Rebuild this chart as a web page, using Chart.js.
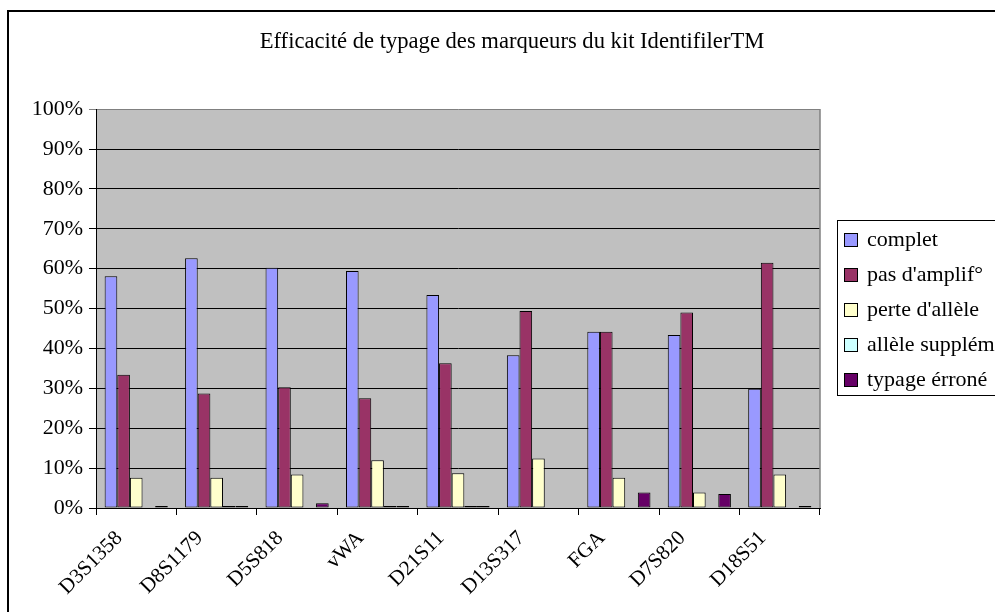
<!DOCTYPE html>
<html>
<head>
<meta charset="utf-8">
<script src="https://cdn.jsdelivr.net/npm/chart.js@4"></script>
<style>
  html, body { margin: 0; padding: 0; background: #ffffff; }
  #wrap { width: 995px; height: 612px; position: relative; }
  canvas { display: block; }
</style>
</head>
<body>
<div id="wrap"><canvas id="c" width="995" height="612"></canvas></div>
<script>
// ---- data ----
const chartTitle = "Efficacité de typage des marqueurs du kit IdentifilerTM";
const markers = ['D3S1358', 'D8S1179', 'D5S818', 'vWA', 'D21S11', 'D13S317', 'FGA', 'D7S820', 'D18S51'];
const seriesNames = ['complet', "pas d'amplif°", "perte d'allèle", 'allèle supplém.', 'typage érroné'];
const complet       = [58.1, 62.6, 60.2, 59.4, 53.4, 38.3, 44.2, 43.4, 29.9];
const pasAmplif     = [33.4, 28.7, 30.3, 27.5, 36.3, 49.4, 44.2, 49.0, 61.5];
const perteAllele   = [7.6, 7.6, 8.4, 12.0, 8.7, 12.4, 7.6, 3.9, 8.4];
const alleleSupplem = [0, 0.5, 0, 0.5, 0.5, 0, 0, 0, 0];
const typageErrone  = [0.5, 0.5, 1.2, 0.5, 0.5, 0, 3.9, 3.5, 0.5];
const yTickLabels = ['0%', '10%', '20%', '30%', '40%', '50%', '60%', '70%', '80%', '90%', '100%'];
const seriesColors = ['#9999FF', '#993366', '#FFFFCC', '#CCFFFF', '#660066'];

const FONT = "'Liberation Serif', 'Times New Roman', serif";
const seriesValues = [complet, pasAmplif, perteAllele, alleleSupplem, typageErrone];

const datasets = seriesNames.map((name, i) => ({
  label: name,
  data: seriesValues[i],
  backgroundColor: seriesColors[i],
  borderColor: '#000000',
  borderWidth: 1,
  borderSkipped: false,
  categoryPercentage: 0.785,
  barPercentage: 1.0
}));

const decorPlugin = {
  id: 'decor',
  beforeDraw(chart) {
    const { ctx, chartArea: a } = chart;
    ctx.save();
    ctx.fillStyle = '#ffffff';
    ctx.fillRect(0, 0, chart.width, chart.height);
    ctx.fillStyle = '#C0C0C0';
    ctx.fillRect(a.left, a.top, a.right - a.left, a.bottom - a.top);
    ctx.restore();
  },
  afterDraw(chart) {
    const { ctx, chartArea: a } = chart;
    ctx.save();
    // plot area right border (grey)
    ctx.strokeStyle = '#808080';
    ctx.lineWidth = 1.5;
    ctx.beginPath();
    ctx.moveTo(a.right, a.top);
    ctx.lineTo(a.right, a.bottom);
    ctx.stroke();
    // outer chart border
    ctx.fillStyle = '#000000';
    ctx.fillRect(7, 10, 2, chart.height - 10);
    ctx.fillRect(7, 10, chart.width - 7, 2);
    // legend
    const lx = 837, ly = 220, lh = 175;
    ctx.strokeStyle = '#000000';
    ctx.lineWidth = 1;
    ctx.strokeRect(lx + 0.5, ly + 0.5, chart.width - lx + 10, lh);
    ctx.font = '22px ' + FONT;
    ctx.textBaseline = 'middle';
    ctx.textAlign = 'left';
    chart.data.datasets.forEach((ds, i) => {
      const cy = 239.5 + i * 35;
      ctx.fillStyle = ds.backgroundColor;
      ctx.fillRect(844, cy - 6.5, 13, 13);
      ctx.strokeStyle = '#000000';
      ctx.lineWidth = 1;
      ctx.strokeRect(844.5, cy - 6, 13, 13);
      ctx.fillStyle = '#000000';
      ctx.fillText(ds.label, 867, cy + 1);
    });
    ctx.restore();
  }
};

new Chart(document.getElementById('c'), {
  type: 'bar',
  data: { labels: markers, datasets },
  options: {
    responsive: false,
    animation: false,
    devicePixelRatio: 1,
    layout: { padding: { left: 29, right: 0, top: 0, bottom: 0 } },
    plugins: {
      legend: { display: false },
      tooltip: { enabled: false },
      title: {
        display: true,
        text: chartTitle,
        color: '#000000',
        font: { family: FONT, size: 22.6, weight: 'normal' },
        padding: { top: 29, bottom: 53 }
      }
    },
    scales: {
      x: {
        ticks: {
          autoSkip: false,
          maxRotation: 45,
          minRotation: 45,
          color: '#000000',
          padding: 11,
          labelOffset: -17,
          font: { family: FONT, size: 21 }
        },
        grid: {
          display: true,
          offset: true,
          drawOnChartArea: false,
          drawTicks: true,
          tickLength: 7,
          color: '#000000'
        },
        border: { display: true, color: '#000000', width: 1 },
        afterFit(s) { s.height = 104; }
      },
      y: {
        min: 0,
        max: 100,
        ticks: {
          stepSize: 10,
          color: '#000000',
          padding: 6,
          font: { family: FONT, size: 22 },
          callback: (v, i) => yTickLabels[i]
        },
        grid: {
          color: (c) => (c.tick && c.tick.value === 100 ? '#808080' : '#000000'),
          lineWidth: 1,
          tickLength: 7,
          drawTicks: true
        },
        border: { display: true, color: '#000000', width: 1 },
        afterFit(s) { s.width = 67; }
      },
      spacer: {
        type: 'linear',
        position: 'right',
        display: true,
        grid: { display: false, drawTicks: false },
        ticks: { display: false },
        border: { display: false },
        afterFit(s) { s.width = 175; }
      }
    }
  },
  plugins: [decorPlugin]
});
</script>
</body>
</html>
